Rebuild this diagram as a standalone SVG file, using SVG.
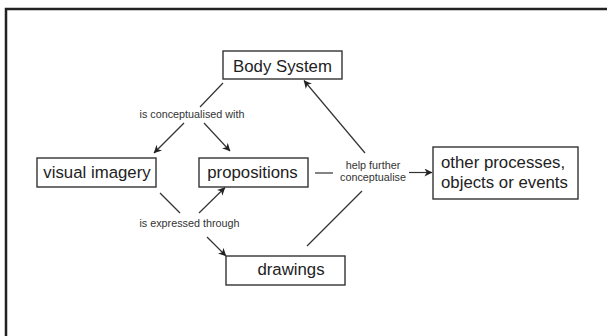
<svg xmlns="http://www.w3.org/2000/svg" width="607" height="336" viewBox="0 0 607 336">
  <style>
    .box { fill: #fff; stroke: #333; stroke-width: 1.4; }
    .nt { font-family: "Liberation Sans", Arial, sans-serif; font-size: 16.8px; fill: #222; }
    .lt { font-family: "Liberation Sans", Arial, sans-serif; font-size: 10.8px; fill: #333; }
    .ln { fill: none; stroke: #333; stroke-width: 1.2; }
    .ar { fill: none; stroke: #333; stroke-width: 1.2; marker-end: url(#arr); }
  </style>
  <defs>
    <marker id="arr" viewBox="0 0 10 10" refX="9.5" refY="5" markerWidth="8" markerHeight="8" markerUnits="userSpaceOnUse" orient="auto">
      <path d="M0,0 L10,5 L0,10 L3,5 z" fill="#222"/>
    </marker>
  </defs>
  <rect x="0" y="0" width="607" height="336" fill="#fff"/>
  <rect x="6" y="9" width="700" height="400" fill="none" stroke="#222" stroke-width="2.5"/>

  <g id="connectors">
    <line class="ln" x1="223" y1="83" x2="200" y2="107"/>
    <line class="ar" x1="184" y1="123" x2="154" y2="153"/>
    <line class="ar" x1="204" y1="123" x2="230" y2="151"/>
    <line class="ln" x1="160" y1="193" x2="180" y2="213"/>
    <line class="ar" x1="207" y1="237" x2="226" y2="256"/>
    <line class="ar" x1="199" y1="213" x2="225" y2="187.5"/>
    <line class="ln" x1="315" y1="173" x2="333" y2="173"/>
    <line class="ar" x1="409" y1="172.5" x2="432" y2="172.5"/>
    <line class="ar" x1="365" y1="153" x2="304" y2="80.5"/>
    <line class="ln" x1="307" y1="246" x2="362" y2="191"/>
    <text class="lt" x="192" y="118" text-anchor="middle">is conceptualised with</text>
    <text class="lt" x="189.5" y="227" text-anchor="middle">is expressed through</text>
    <text class="lt" x="373" y="169" text-anchor="middle">help further</text>
    <text class="lt" x="373" y="181" text-anchor="middle">conceptualise</text>
  </g>

  <g id="body-system">
    <rect class="box" x="223" y="51" width="119" height="28"/>
    <text class="nt" x="282.5" y="71.5" text-anchor="middle">Body System</text>
  </g>
  <g id="visual-imagery">
    <rect class="box" x="37" y="158" width="119" height="29"/>
    <text class="nt" x="97" y="177.5" text-anchor="middle">visual imagery</text>
  </g>
  <g id="propositions">
    <rect class="box" x="199" y="158" width="109" height="29"/>
    <text class="nt" x="252.5" y="177.5" text-anchor="middle">propositions</text>
  </g>
  <g id="drawings">
    <rect class="box" x="226" y="256" width="119" height="29"/>
    <text class="nt" x="291" y="274.5" text-anchor="middle">drawings</text>
  </g>
  <g id="other">
    <rect class="box" x="433" y="147" width="145" height="52"/>
    <text class="nt" x="441" y="167.5">other processes,</text>
    <text class="nt" x="441" y="188">objects or events</text>
  </g>
</svg>
